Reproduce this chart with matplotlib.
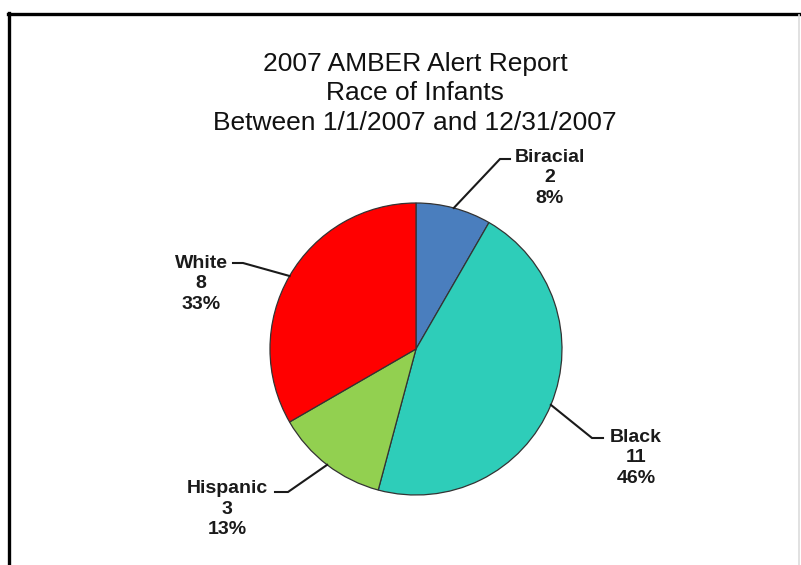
import numpy as np
import matplotlib
matplotlib.use('Agg')
import matplotlib.pyplot as plt
from matplotlib.lines import Line2D

# chart data
races = ['Biracial', 'Black', 'Hispanic', 'White']
counts = [2, 11, 3, 8]
colors = ['#4a7ebe', '#2ecdb9', '#92d050', '#ff0000']
title_lines = ['2007 AMBER Alert Report', 'Race of Infants',
               'Between 1/1/2007 and 12/31/2007']

# label layout in pixels from top-left: text centre, elbow, end of horizontal stub
label_pos = {
    'Biracial': (550, 178),
    'Black': (636, 458),
    'Hispanic': (227, 509),
    'White': (201, 284),
}
leader = {
    'Biracial': [(500, 159), (510, 159)],
    'Black': [(592, 438), (603, 438)],
    'Hispanic': [(288, 492), (275, 492)],
    'White': [(243, 263), (233, 263)],
}

W, H = 801, 565
plt.rcParams['font.family'] = ['Liberation Sans', 'DejaVu Sans']

fig = plt.figure(figsize=(W / 100, H / 100), dpi=100)
fig.patch.set_facecolor('white')
ax = fig.add_axes([0, 0, 1, 1])


def Y(py):
    return H - py


cx, cy, R = 416, 349, 146
wedges, _ = ax.pie(counts, colors=colors, startangle=90, counterclock=False,
                   center=(cx, Y(cy)), radius=R,
                   wedgeprops=dict(edgecolor='#333333', linewidth=0.9))
ax.set_xlim(0, W)
ax.set_ylim(0, H)
ax.set_aspect('equal')
ax.axis('off')

total = sum(counts)
for w, name, n in zip(wedges, races, counts):
    mid = np.deg2rad((w.theta1 + w.theta2) / 2)
    x0 = cx + R * np.cos(mid)
    y0 = Y(cy) + R * np.sin(mid)
    pts = [(x0, y0)] + [(px, Y(py)) for px, py in leader[name]]
    ax.plot([p[0] for p in pts], [p[1] for p in pts], color='#1a1a1a',
            lw=1.5, solid_joinstyle='miter')
    tx, ty = label_pos[name]
    pct = int(np.floor(100 * n / total + 0.5))  # excel-style rounding
    ax.text(tx, Y(ty), f'{name}\n{n}\n{pct}%', ha='center', va='center',
            multialignment='center', fontsize=14, fontweight='bold',
            color='#1a1a1a', linespacing=1.25)

# title
for i, line in enumerate(title_lines):
    ax.text(415, Y(64 + 29.5 * i), line, ha='center', va='center',
            fontsize=19, color='#111111')

# outer frame
fig.add_artist(Line2D([8 / W, 1], [1 - 13.5 / H] * 2, color='black', lw=2.4,
                      transform=fig.transFigure))
fig.add_artist(Line2D([9 / W, 9 / W], [1 - 12.5 / H, 0], color='black', lw=2.4,
                      transform=fig.transFigure))
fig.add_artist(Line2D([798.5 / W, 798.5 / W], [1 - 15 / H, 0], color='#dcdcdc',
                      lw=1.2, transform=fig.transFigure))

fig.savefig('out.png', dpi=100, facecolor='white')
